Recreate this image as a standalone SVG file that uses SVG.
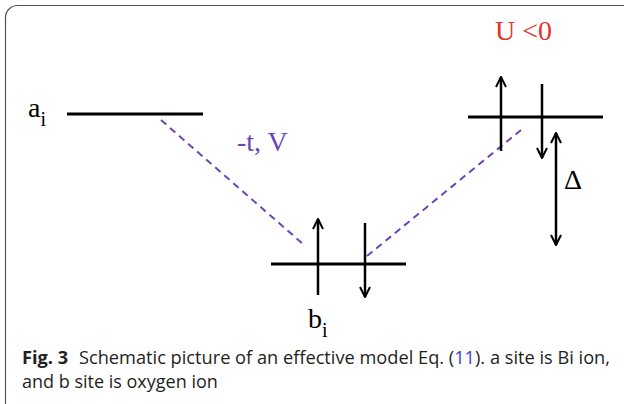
<svg xmlns="http://www.w3.org/2000/svg" width="624" height="404" viewBox="0 0 624 404">
<style>
.lvl{stroke:#000;stroke-width:3;fill:none}
.spin{stroke:#000;stroke-width:2.5;fill:none}
.hop{stroke:#6a45b8;stroke-width:2;stroke-dasharray:7,5;fill:none}
.tm{font-family:"Liberation Serif","Times New Roman",serif;font-size:28px}
.cap{font-family:"Open Sans","Noto Sans",sans-serif;font-size:18px;fill:#231f20}
</style>
<defs>
<marker id="ah" viewBox="0 0 10 10" refX="9" refY="5" markerWidth="5" markerHeight="5" orient="auto-start-reverse" markerUnits="strokeWidth">
<path d="M1,1 L9,5 L1,9" fill="none" stroke="#000" stroke-width="1.6"/>
</marker>
</defs>
<rect x="5.5" y="5.5" width="630" height="410" rx="12" fill="#fff" stroke="#555" stroke-width="1.2"/>
<g id="connectors">
<line class="hop" x1="161" y1="120" x2="303" y2="244"/>
<line class="hop" x1="367" y1="256" x2="521" y2="130"/>
</g>
<g id="node-a">
<line class="lvl" x1="67" y1="114" x2="203" y2="114"/>
<text class="tm" x="28" y="117" font-size="31">a<tspan font-size="20" dy="9">i</tspan></text>
</g>
<g id="node-b">
<line class="lvl" x1="271" y1="264" x2="406" y2="264"/>
<line class="spin" x1="318" y1="295" x2="318" y2="219" marker-end="url(#ah)"/>
<line class="spin" x1="365" y1="223" x2="365" y2="297" marker-end="url(#ah)"/>
<text class="tm" x="308" y="328" font-size="31">b<tspan font-size="20" dy="9">i</tspan></text>
</g>
<g id="node-right">
<line class="lvl" x1="468" y1="117" x2="603" y2="117"/>
<line class="spin" x1="501" y1="151" x2="501" y2="77" marker-end="url(#ah)"/>
<line class="spin" x1="542" y1="84" x2="542" y2="158" marker-end="url(#ah)"/>
<line class="spin" x1="556" y1="133" x2="556" y2="245" marker-start="url(#ah)" marker-end="url(#ah)"/>
<text class="tm" x="564" y="189">Δ</text>
<text class="tm" x="495" y="40" fill="#e0352b">U &lt;0</text>
</g>
<text class="tm" x="237" y="151" fill="#6a45b8">-t, V</text>
<g id="caption">
<text class="cap" x="22" y="364" textLength="588" lengthAdjust="spacingAndGlyphs"><tspan font-weight="bold">Fig. 3</tspan><tspan dx="6"> Schematic picture of an effective model Eq. (</tspan><tspan fill="#3b3bd0">11</tspan>). a site is Bi ion,</text>
<text class="cap" x="22" y="388">and b site is oxygen ion</text>
</g>
</svg>
